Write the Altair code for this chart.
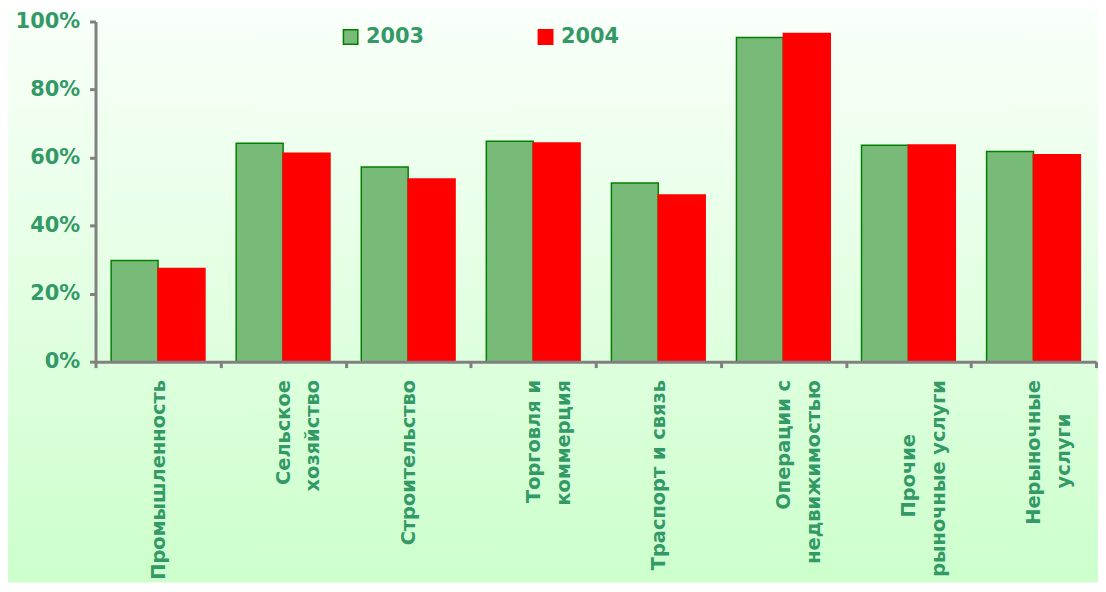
import json
import altair as alt
import pandas as pd

# ---- data ----
categories = [
    "Промышленность",
    "Сельское хозяйство",
    "Строительство",
    "Торговля и коммерция",
    "Траспорт и связь",
    "Операции с недвижимостью",
    "Прочие рыночные услуги",
    "Нерыночные услуги",
]
# tick labels as they are broken into lines on the chart
NB = "\u00a0"
ZW = "\u200b"
tick_labels = [
    ["Промышленность"],
    ["Сельское", "хозяйство"],
    ["Строительство"],
    ["Торговля и", "коммерция"],
    ["Траспорт и связь"],
    ["Операции с", "недвижимостью"],
    ["Прочие" + NB * 8 + ZW, "рыночные услуги"],
    ["Нерыночные", "услуги" + NB * 5 + ZW],
]
years = ["2003", "2004"]
values_2003 = [0.297, 0.642, 0.572, 0.648, 0.525, 0.953, 0.636, 0.618]
values_2004 = [0.274, 0.613, 0.537, 0.643, 0.490, 0.965, 0.637, 0.608]

rows = []
for i, c in enumerate(categories):
    rows.append({"cat": c, "year": years[0], "value": values_2003[i]})
    rows.append({"cat": c, "year": years[1], "value": values_2004[i]})
df = pd.DataFrame(rows)

W, H = 1006, 342
FONT = "DejaVu Sans"
GREEN_TXT = "#339966"
AXIS_GRAY = "#808080"

label_expr = "{}[indexof({}, datum.value)]".format(
    json.dumps(tick_labels, ensure_ascii=False),
    json.dumps(categories, ensure_ascii=False),
)

bg = alt.Chart(pd.DataFrame({"bg": [0]})).mark_rect(
    fill=alt.Gradient(
        gradient="linear",
        stops=[
            alt.GradientStop(offset=0, color="#f9fff9"),
            alt.GradientStop(offset=1, color="#ccffcc"),
        ],
        x1=0, x2=0, y1=0, y2=1,
    )
).encode(
    x=alt.value(-88), x2=alt.value(W + 20),
    y=alt.value(-12), y2=alt.value(H + 222),
)

legend_kw = dict(
    title=None,
    orient="none",
    legendX=246,
    legendY=5,
    direction="horizontal",
    symbolType="square",
    symbolSize=210,
    symbolStrokeWidth=1.5,
    labelFont=FONT,
    labelFontSize=21,
    labelFontWeight="bold",
    labelColor=GREEN_TXT,
    labelOffset=5,
    columnPadding=111,
    padding=0,
)

bars = alt.Chart(df).mark_bar(strokeWidth=1.5).encode(
    x=alt.X(
        "cat:N",
        sort=categories,
        scale=alt.Scale(paddingInner=0, paddingOuter=0),
        axis=alt.Axis(
            title=None,
            zindex=1,
            tickBand="extent",
            ticks=True,
            tickSize=6,
            tickWidth=3,
            tickColor=AXIS_GRAY,
            domainColor=AXIS_GRAY,
            domainWidth=3,
            labelAngle=270,
            labelAlign="right",
            labelBaseline="middle",
            labelPadding=12,
            labelFont=FONT,
            labelFontSize=19.5,
            labelFontWeight="bold",
            labelColor=GREEN_TXT,
            labelLineHeight=30,
            labelExpr=label_expr,
            labelOverlap=False,
            labelLimit=0,
        ),
    ),
    xOffset=alt.XOffset(
        "year:N", sort=years, scale=alt.Scale(paddingOuter=1 / 3, paddingInner=0)
    ),
    y=alt.Y(
        "value:Q",
        scale=alt.Scale(domain=[0, 1], nice=False),
        axis=alt.Axis(
            title=None,
            zindex=1,
            values=[0, 0.2, 0.4, 0.6, 0.8, 1.0],
            format=".0%",
            grid=False,
            tickSize=6,
            tickWidth=3,
            tickColor=AXIS_GRAY,
            domainColor=AXIS_GRAY,
            domainWidth=3,
            labelPadding=10,
            labelFont=FONT,
            labelFontSize=21,
            labelFontWeight="bold",
            labelColor=GREEN_TXT,
        ),
    ),
    fill=alt.Fill(
        "year:N",
        sort=years,
        scale=alt.Scale(domain=years, range=["#78ba78", "#ff0000"]),
        legend=alt.Legend(**legend_kw),
    ),
    stroke=alt.Stroke(
        "year:N",
        sort=years,
        scale=alt.Scale(domain=years, range=["#008000", "#ff0000"]),
        legend=alt.Legend(**legend_kw),
    ),
)

chart = (
    alt.layer(bg, bars)
    .properties(
        width=W,
        height=H,
        autosize=alt.AutoSizeParams(type="none"),
        padding={"left": 88, "top": 12, "right": 2, "bottom": 222},
        background="white",
    )
    .configure_view(stroke=None, fill=None)
)

chart.save("out.html", embed_options={"renderer": "svg", "actions": False})
